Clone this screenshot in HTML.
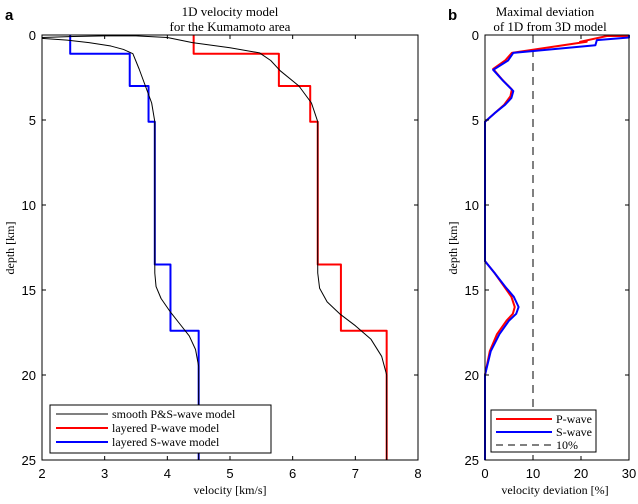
<!DOCTYPE html>
<html><head><meta charset="utf-8"><style>
body{margin:0;background:#fff;}
svg text{font-family:"Liberation Sans",sans-serif;}
.serif{font-family:"Liberation Serif",serif;}
</style></head><body>
<svg id="c" width="638" height="499" xmlns="http://www.w3.org/2000/svg"></svg>
<script>
const xTicksA=[2,3,4,5,6,7,8];
const yTicks=[0,5,10,15,20,25];
const xTicksB=[0,10,20,30];
const sLayerDepth=[0,1.1,3,5.1,13.5,17.4,25];
const sLayerVel=[2.45,3.4,3.7,3.8,4.05,4.5];
const pLayerVel=[4.42,5.78,6.28,6.4,6.77,7.5];
const sSmoothV=[2.0,2.4,2.75,3.1,3.3,3.45,3.55,3.65,3.75,3.8,3.8,3.82,3.9,4.05,4.2,4.35,4.45,4.5,4.5];
const sSmoothD=[0.2,0.3,0.45,0.65,0.85,1.1,2.0,3.0,4.0,5.1,14,14.8,15.5,16.3,17,17.7,18.5,19.5,25];
const pSmoothV=[2.0,2.5,3.0,3.5,4.0,4.4,5.0,5.47,5.65,5.8,6.1,6.3,6.4,6.4,6.43,6.55,6.75,7.0,7.25,7.42,7.5,7.5];
const pSmoothD=[0.15,0.09,0.05,0.05,0.15,0.45,0.75,1.05,1.5,2.1,3.0,4.0,5.1,14,14.9,15.7,16.4,17.1,17.9,18.9,20,25];
const pDevV=[30,25.4,19.8,21.2,5.6,4.2,1.7,3.5,5.6,5.3,4,2,0,0,2,4,5.5,6.2,5.8,4.5,2.5,1,0,0];
const pDevD=[0.06,0.06,0.4,0.4,1.05,1.5,2.0,2.6,3.2,3.6,4.1,4.6,5.1,13.3,14,14.8,15.4,16.0,16.4,16.8,17.6,18.6,20,25];
const sDevV=[30,30,23.3,23,5.9,4.8,1.7,3.8,5.9,5.5,4.2,2,0,0,2,4.2,6,7,6.5,5,3,1.2,0,0];
const sDevD=[0,0.15,0.3,0.6,1.05,1.5,2.05,2.7,3.3,3.7,4.1,4.6,5.1,13.3,14,14.8,15.4,16.0,16.4,16.8,17.6,18.6,20,25];
const devLimit=10;

const NS="http://www.w3.org/2000/svg";
const svg=document.getElementById('c');
function mk(t,a,p){const e=document.createElementNS(NS,t);for(const k in a)e.setAttribute(k,a[k]);(p||svg).appendChild(e);return e;}
const Y0=35,Y1=460;
const y=d=>Y0+(d/25)*(Y1-Y0);
const xa=v=>42+(v-2)/6*(418-42);
const xb=v=>485+v/30*(629-485);

function txt(s,x,yy,o){const e=mk('text',Object.assign({x:x,y:yy,'font-size':13,fill:'#000'},o||{}));e.textContent=s;return e;}

let e;
e=txt('a',5,20,{'font-weight':'bold','font-size':15});

e=txt('1D velocity model',230,16,{'text-anchor':'middle',class:'serif'});

e=txt('for the Kumamoto area',230,31,{'text-anchor':'middle',class:'serif'});


function polyline(xs,ds,xf,color,w,name,dash){
  const pts=xs.map((v,i)=>xf(v)+','+y(ds[i])).join(' ');
  const el=mk('polyline',{points:pts,fill:'none',stroke:color,'stroke-width':w,'stroke-linejoin':'round'});
  if(dash)el.setAttribute('stroke-dasharray',dash);
  
  return el;
}
function stepPts(vals){const xs=[],ds=[];vals.forEach((v,i)=>{xs.push(v,v);ds.push(sLayerDepth[i],sLayerDepth[i+1]);});return [xs,ds];}

let s=stepPts(sLayerVel);polyline(s[0],s[1],xa,'#0000ff',2,'layered-s-wave-line');
let p=stepPts(pLayerVel);polyline(p[0],p[1],xa,'#ff0000',2,'layered-p-wave-line');
polyline(sSmoothV,sSmoothD,xa,'#000',1,'smooth-s-wave-line');
polyline(pSmoothV,pSmoothD,xa,'#000',1,'smooth-p-wave-line');

e=mk('rect',{x:42,y:Y0,width:418-42,height:Y1-Y0,fill:'none',stroke:'#000','stroke-width':1});

xTicksA.forEach(v=>{
  mk('line',{x1:xa(v),x2:xa(v),y1:Y1,y2:Y1-4,stroke:'#000'});
  mk('line',{x1:xa(v),x2:xa(v),y1:Y0,y2:Y0+4,stroke:'#000'});
  e=txt(String(v),xa(v),478,{'text-anchor':'middle'});
  
});
yTicks.forEach(d=>{
  mk('line',{x1:42,x2:46,y1:y(d),y2:y(d),stroke:'#000'});
  mk('line',{x1:418,x2:414,y1:y(d),y2:y(d),stroke:'#000'});
  e=txt(String(d),36,y(d)+5,{'text-anchor':'end'});
  
});
e=txt('velocity [km/s]',230,494,{'text-anchor':'middle',class:'serif','font-size':12});

e=txt('depth [km]',14,248,{'text-anchor':'middle',class:'serif','font-size':12,transform:'rotate(-90 14 248)'});


e=mk('rect',{x:50,y:405,width:221,height:48,fill:'#fff',stroke:'#000'});

[['smooth P&S-wave model','#000',1],['layered P-wave model','#f00',2],['layered S-wave model','#00f',2]].forEach((l,i)=>{
  const yy=414+i*14;
  mk('line',{x1:56,x2:108,y1:yy,y2:yy,stroke:l[1],'stroke-width':l[2]});
  e=txt(l[0],112,yy+4,{class:'serif','font-size':12});
  
});

e=txt('b',448,20,{'font-weight':'bold','font-size':15});

e=txt('Maximal deviation',545,16,{'text-anchor':'middle',class:'serif'});

e=txt('of 1D from 3D model',550,31,{'text-anchor':'middle',class:'serif'});


polyline([devLimit,devLimit],[0,25],xb,'#000',1,'ten-percent-line','8,6');
polyline(pDevV,pDevD,xb,'#f00',2,'p-wave-deviation-line');
polyline(sDevV,sDevD,xb,'#00f',2,'s-wave-deviation-line');

e=mk('rect',{x:485,y:Y0,width:629-485,height:Y1-Y0,fill:'none',stroke:'#000'});

xTicksB.forEach(v=>{
  mk('line',{x1:xb(v),x2:xb(v),y1:Y1,y2:Y1-4,stroke:'#000'});
  mk('line',{x1:xb(v),x2:xb(v),y1:Y0,y2:Y0+4,stroke:'#000'});
  e=txt(String(v),xb(v),478,{'text-anchor':'middle'});
  
});
yTicks.forEach(d=>{
  mk('line',{x1:485,x2:489,y1:y(d),y2:y(d),stroke:'#000'});
  mk('line',{x1:629,x2:625,y1:y(d),y2:y(d),stroke:'#000'});
  e=txt(String(d),479,y(d)+5,{'text-anchor':'end'});
  
});
e=txt('velocity deviation [%]',555,494,{'text-anchor':'middle',class:'serif','font-size':12});

e=txt('depth [km]',457,248,{'text-anchor':'middle',class:'serif','font-size':12,transform:'rotate(-90 457 248)'});


e=mk('rect',{x:491,y:410,width:105,height:42,fill:'#fff',stroke:'#000'});

[['P-wave','#f00',2,null],['S-wave','#00f',2,null],['10%','#000',1,'7,5']].forEach((l,i)=>{
  const yy=419+i*13;
  const ln=mk('line',{x1:496,x2:552,y1:yy,y2:yy,stroke:l[1],'stroke-width':l[2]});
  if(l[3])ln.setAttribute('stroke-dasharray',l[3]);
  e=txt(l[0],556,yy+4,{class:'serif','font-size':12});
  
});
</script>
</body></html>
